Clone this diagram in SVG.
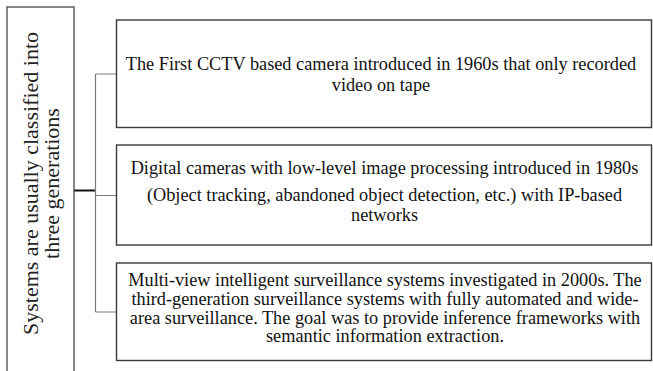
<svg xmlns="http://www.w3.org/2000/svg" width="653" height="371" viewBox="0 0 653 371">
  <style>
    .box { fill: #ffffff; stroke: #3a3a3a; stroke-width: 1.4; }
    .root { fill: #ffffff; stroke: #555555; stroke-width: 1.4; }
    .link { fill: none; stroke: #7a7a7a; stroke-width: 1.2; }
    .stem { fill: none; stroke: #111111; stroke-width: 2; }
    .t { font-size: 18.3px; fill: #111111; text-anchor: middle; }
    .v { font-size: 22px; fill: #222222; text-anchor: middle; }
  </style>
  <rect width="653" height="371" fill="#ffffff"/>

  <!-- connectors -->
  <g id="connectors">
    <path class="stem" d="M74 190.5 H95.5"/>
    <path class="link" d="M95.5 74 V312"/>
    <path class="link" d="M95.5 74 H116.5 M95.5 195.5 H116.5 M95.5 312 H116.5"/>
  </g>

  <!-- root node -->
  <g id="root" font-family="'Liberation Serif', 'Times New Roman', serif">
    <rect class="root" x="7" y="7" width="67" height="370"/>
    <text class="v" transform="translate(38 183.5) rotate(-90)">Systems are usually classified into</text>
    <text class="v" transform="translate(58.5 183.5) rotate(-90)">three generations</text>
  </g>

  <!-- first generation -->
  <g id="gen1" font-family="'Liberation Serif', 'Times New Roman', serif">
    <rect class="box" x="116.5" y="20" width="535" height="107.5"/>
    <text class="t" x="381" y="69.5">The First CCTV based camera introduced in 1960s that only recorded</text>
    <text class="t" x="381" y="91">video on tape</text>
  </g>

  <!-- second generation -->
  <g id="gen2" font-family="'Liberation Serif', 'Times New Roman', serif">
    <rect class="box" x="116.5" y="145" width="535" height="100"/>
    <text class="t" x="384.5" y="173.5">Digital cameras with low-level image processing  introduced in 1980s</text>
    <text class="t" x="384.5" y="201">(Object tracking, abandoned object detection, etc.) with IP-based</text>
    <text class="t" x="384.5" y="221">networks</text>
  </g>

  <!-- third generation -->
  <g id="gen3" font-family="'Liberation Serif', 'Times New Roman', serif">
    <rect class="box" x="116.5" y="263" width="535" height="97.5"/>
    <text class="t" x="385" y="286">Multi-view intelligent surveillance systems investigated in 2000s. The</text>
    <text class="t" x="385" y="305">third-generation surveillance systems with fully automated and wide-</text>
    <text class="t" x="385" y="323.5">area surveillance. The goal was to provide inference frameworks with</text>
    <text class="t" x="385" y="342">semantic information extraction.</text>
  </g>
</svg>
